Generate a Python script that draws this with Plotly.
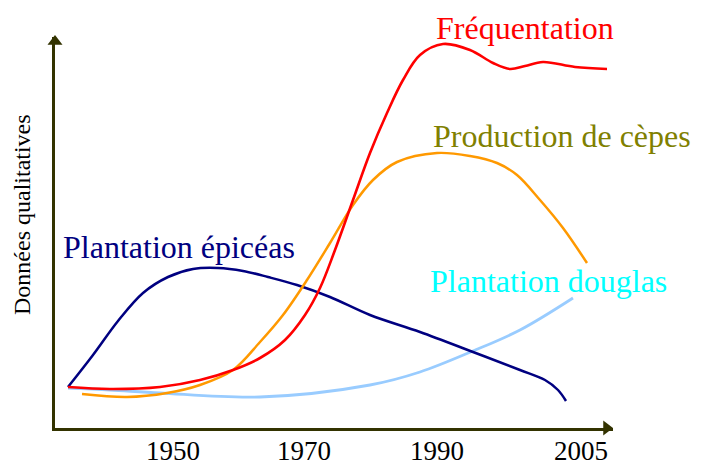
import plotly.graph_objects as go

# ---- Data (abstract time position vs qualitative level) ----
# x: position along the time axis (0 = origin), y: qualitative level
epiceas_x = [13, 38, 63, 88, 113, 138, 163, 188, 213, 242, 275, 315, 365, 418, 465, 490, 503, 511]
epiceas_y = [41, 73, 107, 135, 151, 159, 160, 157, 151, 143, 131, 113, 96, 76, 58, 48, 38, 27]

freq_x = [13, 55, 105, 145, 178, 205, 230, 250, 265, 280, 298, 315, 332, 348, 365, 388, 415, 438, 455, 470, 488, 520, 552]
freq_y = [41, 39, 41, 48, 58, 70, 88, 113, 140, 178, 228, 275, 315, 348, 373, 384, 378, 365, 359, 362, 366, 361, 359]

cepes_x = [27, 72, 112, 145, 178, 205, 228, 252, 275, 298, 318, 342, 382, 415, 442, 462, 485, 508, 532]
cepes_y = [34, 31, 35, 43, 58, 86, 113, 148, 185, 223, 248, 266, 275, 272, 265, 253, 228, 200, 165]

douglas_x = [13, 55, 105, 205, 315, 365, 418, 465, 518]
douglas_y = [40, 38, 35, 31, 43, 56, 77, 98, 130]

tick_pos = [118, 249, 382, 526]
tick_labels = ["1950", "1970", "1990", "2005"]

X_MAX = 558
Y_MAX = 391

FONT = "Times New Roman, Liberation Serif, serif"
AXIS_COLOR = "#333300"

fig = go.Figure()

def add_line(x, y, color, width=2.6):
    fig.add_trace(go.Scatter(x=x, y=y, mode="lines",
                             line=dict(color=color, width=width, shape="spline", smoothing=1.0),
                             hoverinfo="skip", showlegend=False))

add_line(douglas_x, douglas_y, "#99CCFF", 2.8)
add_line(epiceas_x, epiceas_y, "#000080", 2.5)
add_line(cepes_x, cepes_y, "#FF9900", 2.5)
add_line(freq_x, freq_y, "#FF0000", 2.6)

# Arrow heads at the ends of the axes
AH = 13
fig.add_trace(go.Scatter(x=[0], y=[Y_MAX - AH / 2 + 2], mode="markers",
                         marker=dict(symbol="triangle-up", size=AH, color=AXIS_COLOR),
                         cliponaxis=False, hoverinfo="skip", showlegend=False))
fig.add_trace(go.Scatter(x=[X_MAX - AH / 2], y=[0], mode="markers",
                         marker=dict(symbol="triangle-right", size=AH, color=AXIS_COLOR),
                         cliponaxis=False, hoverinfo="skip", showlegend=False))

# label: text, x (data), y (paper fraction of plot height), colour
labels = [
    ("Fréquentation", 379, 400 / Y_MAX, "#FF0000"),
    ("Production de cèpes", 376, 292 / Y_MAX, "#808000"),
    ("Plantation épicéas", 6, 181 / Y_MAX, "#000080"),
    ("Plantation douglas", 373, 147 / Y_MAX, "#00FFFF"),
]
for text, x, y, color in labels:
    fig.add_annotation(x=x, y=y, xref="x", yref="paper", text=text, showarrow=False,
                       xanchor="left", yanchor="middle",
                       font=dict(family=FONT, size=32, color=color))

fig.add_annotation(x=576, y=-2 / Y_MAX, xref="x", yref="paper", text="Année", showarrow=False,
                   xanchor="left", yanchor="middle",
                   font=dict(family=FONT, size=31, color="black"))

fig.add_annotation(x=-33 / 558, y=213 / Y_MAX, xref="paper", yref="paper", text="Données qualitatives",
                   showarrow=False, textangle=-90, xanchor="center", yanchor="middle",
                   font=dict(family=FONT, size=24, color="black"))

fig.update_layout(
    width=718, height=462,
    margin=dict(l=55, r=105, t=37, b=34, autoexpand=False),
    paper_bgcolor="white", plot_bgcolor="white",
    font=dict(family=FONT, color="black"),
    xaxis=dict(range=[0, X_MAX], showline=True, linecolor=AXIS_COLOR, linewidth=3,
               showgrid=False, zeroline=False, ticks="", tickvals=tick_pos, ticktext=tick_labels,
               tickfont=dict(family=FONT, size=27, color="black"), fixedrange=True,
               ticklabelstandoff=-3, automargin=False),
    yaxis=dict(range=[0, Y_MAX], showline=True, linecolor=AXIS_COLOR, linewidth=3,
               showgrid=False, zeroline=False, ticks="", showticklabels=False, fixedrange=True,
               automargin=False),
)

fig.write_html("out.html", config={"displayModeBar": False},
               post_script="document.body.style.margin='0';document.body.style.overflow='hidden';")
